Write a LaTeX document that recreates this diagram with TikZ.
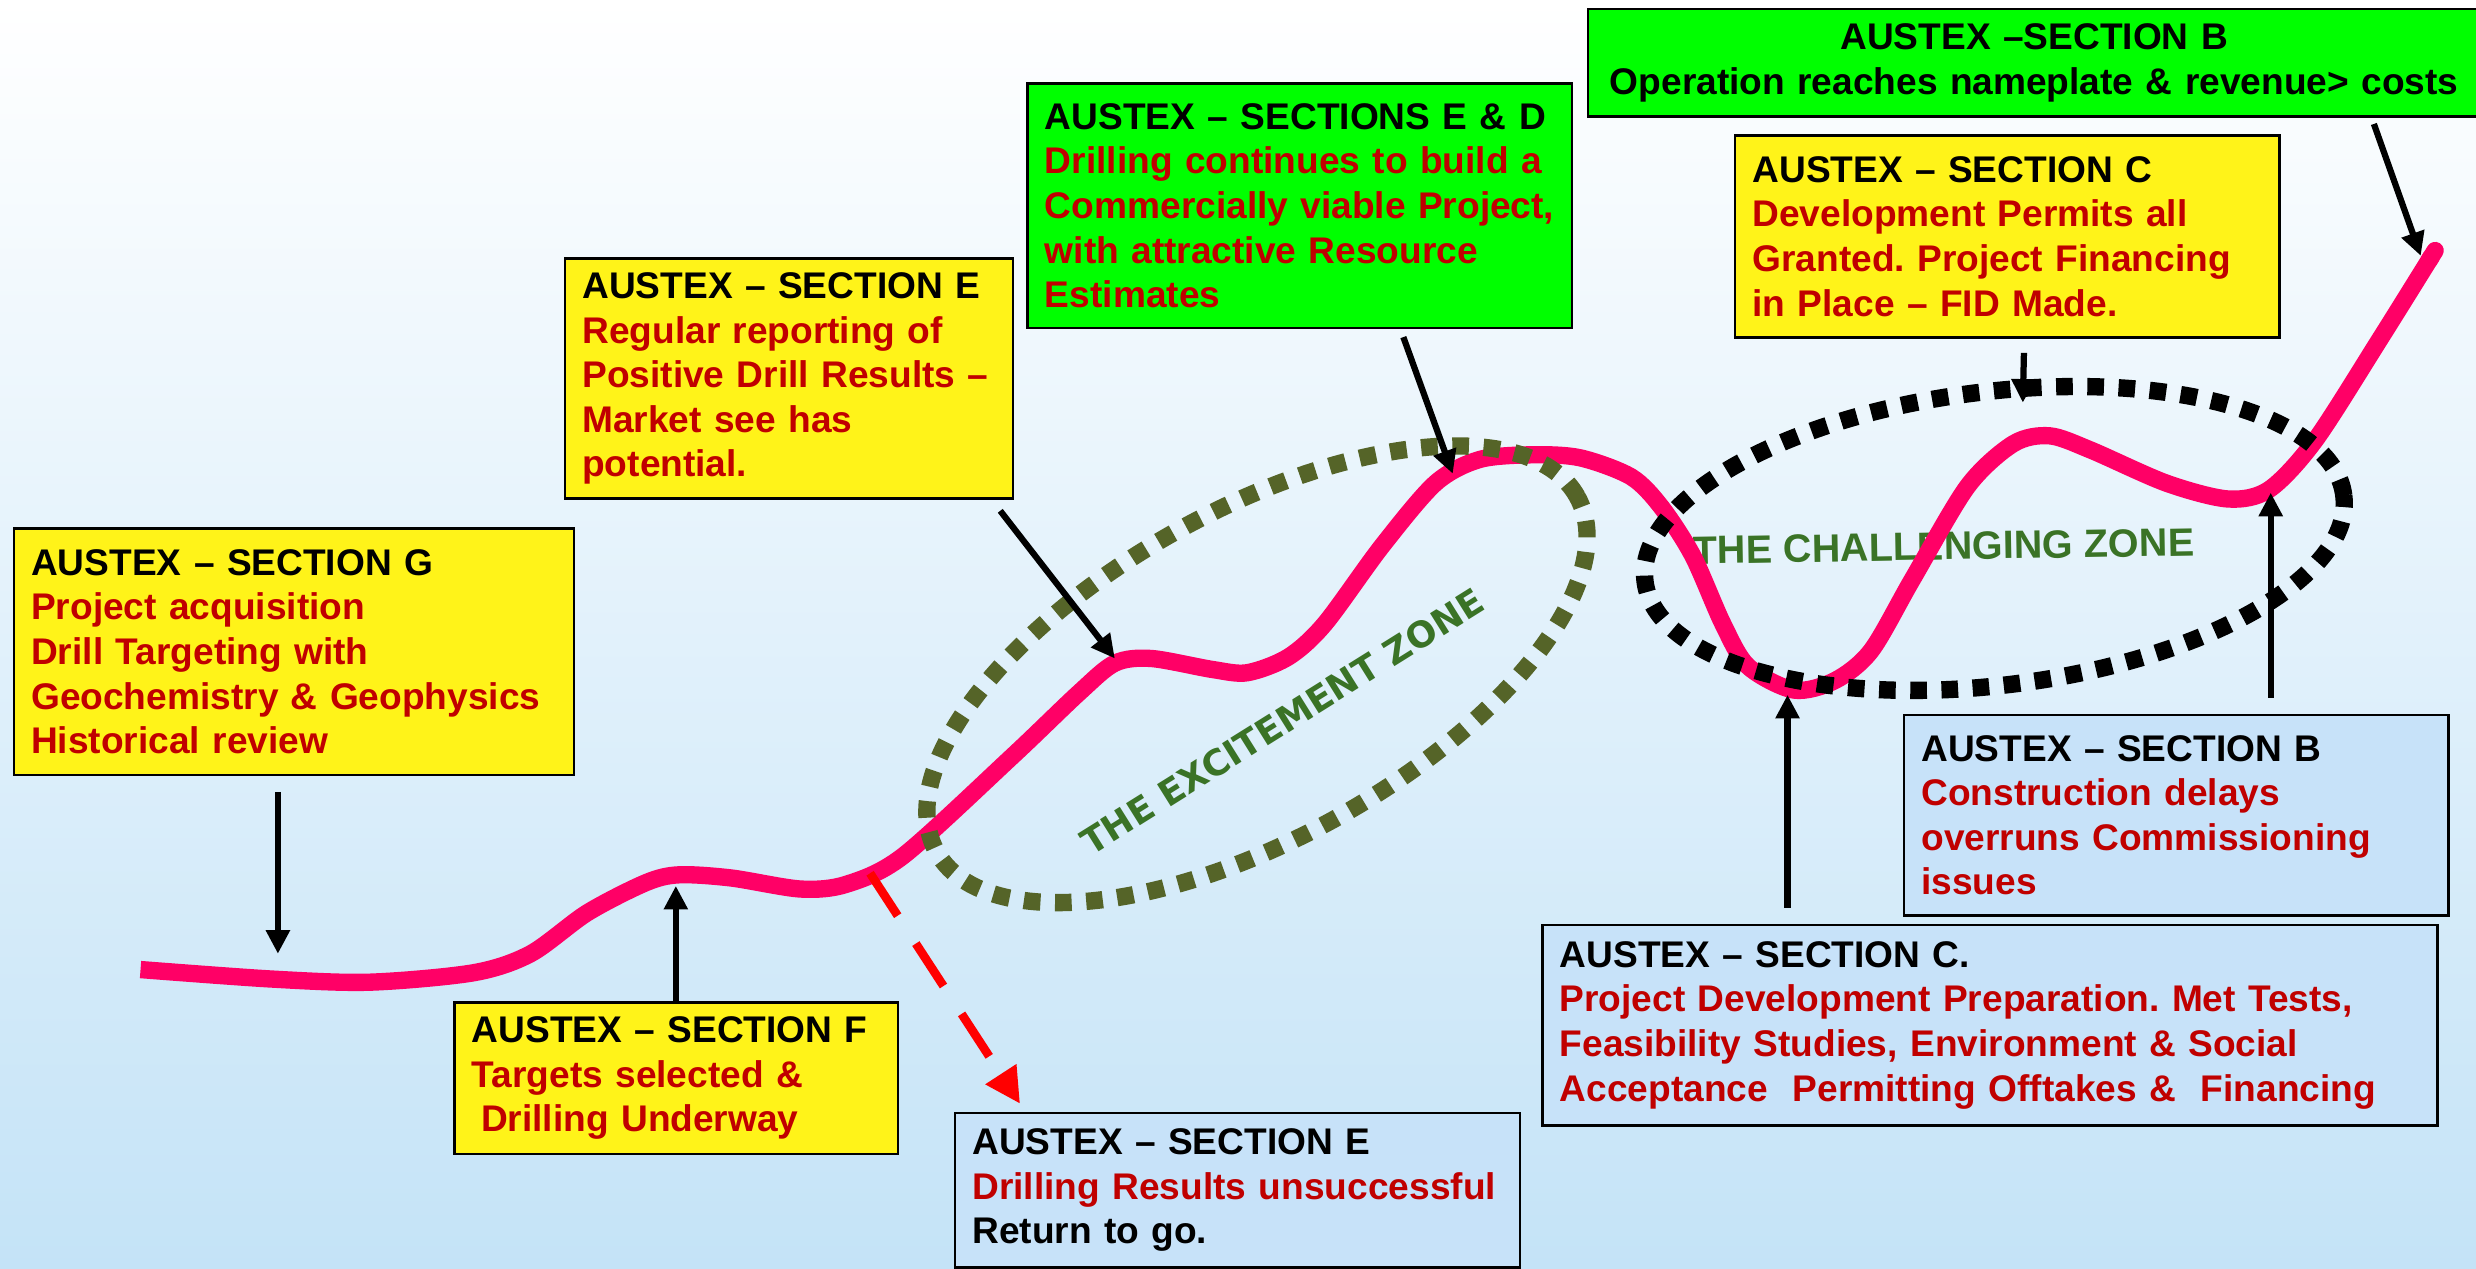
\documentclass[tikz,border=0pt]{standalone}
\usepackage{fontspec}
\setmainfont{Liberation Sans}
\newfontfamily\zonefont{DejaVu Sans}
\usetikzlibrary{calc,arrows.meta}
\frenchspacing

\definecolor{boxyellow}{RGB}{255,243,25}
\definecolor{boxgreen}{RGB}{0,255,0}
\definecolor{boxblue}{RGB}{199,226,249}
\definecolor{sectred}{RGB}{192,0,0}
\definecolor{trendpink}{RGB}{255,0,102}
\definecolor{zoneolive}{RGB}{85,100,40}
\definecolor{zonegreen}{RGB}{58,115,38}
\definecolor{bgblue}{RGB}{196,227,247}

\tikzset{
  secbox/.style={draw=black, line width=0.7pt, anchor=north west,
    inner xsep=0.176cm, inner ysep=0pt, align=left,
    font=\bfseries\fontsize{10.7}{12.86}\selectfont},
  pointer/.style={line width=1.8pt, -{Triangle[length=6.8pt,width=6.6pt]}},
  failpath/.style={draw=red, line width=2.5pt, dash pattern=on 14.6pt off 9.6pt,
    -{Triangle[length=10.2pt,width=10pt]}},
  trend/.style={draw=trendpink, line width=5pt, -{Round Cap[]}},
  zonering/.style={line width=5pt, dash pattern=on 4.8pt off 4.2pt},
  zonelabel/.style={text=zonegreen, inner sep=0pt}
}
\newcommand{\sectext}[1]{\textcolor{sectred}{#1}}

\begin{document}
\begin{tikzpicture}[x=0.016cm,y=-0.016cm]
  %% Background
  \shade[top color=white, bottom color=bgblue] (0,0) rectangle (1568,803);
  \useasboundingbox (0,0) rectangle (1568,803);

  %% Zone labels
  \node[zonelabel, rotate=32, font=\zonefont\bfseries\fontsize{10.3}{12}\selectfont]
    (excite) at (812,457) {THE EXCITEMENT ZONE};
  \node[zonelabel, rotate=1, font=\bfseries\fontsize{11.4}{13}\selectfont]
    (challenge) at (1231,346) {THE CHALLENGING ZONE};

  %% The project curve
  \draw[trend] plot[smooth, tension=0.5] coordinates {
    (89,614) (172,620) (234,622) (300,616) (336,604) (372,578) (409,559)
    (430,554) (463,556) (507,563) (536,560) (572,542) (641,479) (683,439)
    (706,420) (729,417) (768,424) (790,426) (816,416) (839,395) (875,346)
    (909,306) (937,291) (971,288) (1001,290) (1033,302) (1052,321)
    (1072,352) (1091,395) (1107,422) (1136,437) (1162,431) (1185,412)
    (1211,367) (1246,308) (1275,281) (1298,276) (1324,285) (1372,306)
    (1411,316) (1437,310) (1466,279) (1507,215) (1545,154)};

  %% Dotted zones
  \draw[zonering, draw=zoneolive, rotate around={29:(796,427)}]
    (796,427) ellipse [x radius=3.712cm, y radius=1.664cm];
  \draw[zonering, draw=black, rotate around={7:(1263,341)}]
    (1263,341) ellipse [x radius=3.568cm, y radius=1.488cm];

  %% Points on the curve
  \coordinate (tipG) at (176,604);
  \coordinate (tipF) at (428,561);
  \coordinate (tipE) at (706,417);
  \coordinate (tipED) at (920,300);
  \coordinate (tipC) at (1281,255);
  \coordinate (tipBtop) at (1533,162);
  \coordinate (tipCdot) at (1132,440);
  \coordinate (tipB) at (1438,312);
  \coordinate (failstart) at (551,553);

  %% Section boxes
  \node[secbox, fill=boxyellow, text width=5.328cm, minimum height=2.496cm]
    (secG) at (8,334) {AUSTEX – SECTION G\\
      \sectext{Project acquisition}\\
      \sectext{Drill Targeting with}\\
      \sectext{Geochemistry \& Geophysics}\\
      \sectext{Historical review}};
  \node[secbox, fill=boxyellow, text width=4.144cm, minimum height=1.536cm]
    (secF) at (287,634) {AUSTEX – SECTION F\\
      \sectext{Targets selected \&}\\
      \sectext{\hspace*{0.25em}Drilling Underway}};
  \node[secbox, fill=boxblue, text width=5.376cm, minimum height=1.568cm]
    (secEfail) at (604,704) {AUSTEX – SECTION E\\
      \sectext{Drilling Results unsuccessful}\\
      Return to go.};
  \node[secbox, fill=boxyellow, text width=4.192cm, minimum height=2.432cm]
    (secE) at (357,163) {AUSTEX – SECTION E\\
      \sectext{Regular reporting of}\\
      \sectext{Positive Drill Results –}\\
      \sectext{Market see has}\\
      \sectext{potential.}};
  \node[secbox, fill=boxgreen, text width=5.168cm, minimum height=2.48cm]
    (secED) at (650,52) {AUSTEX – SECTIONS E \& D\\
      \sectext{Drilling continues to build a}\\
      \sectext{Commercially viable Project,}\\
      \sectext{with attractive Resource}\\
      \sectext{Estimates}};
  \node[secbox, fill=boxgreen, text width=8.688cm, minimum height=1.088cm, align=center]
    (secBtop) at (1005,5) {AUSTEX –SECTION B\\
      Operation reaches nameplate \& revenue> costs};
  \node[secbox, fill=boxyellow, text width=5.168cm, minimum height=2.048cm]
    (secC) at (1098,85) {AUSTEX – SECTION C\\
      \sectext{Development Permits all}\\
      \sectext{Granted. Project Financing}\\
      \sectext{in Place – FID Made.}};
  \node[secbox, fill=boxblue, text width=5.168cm, minimum height=2.032cm]
    (secB) at (1205,452) {AUSTEX – SECTION B\\
      \sectext{Construction delays}\\
      \sectext{overruns Commissioning}\\
      \sectext{issues}};
  \node[secbox, fill=boxblue, text width=8.72cm, minimum height=2.032cm]
    (secCdot) at (976,585) {AUSTEX – SECTION C.\\
      \sectext{Project Development Preparation. Met Tests,}\\
      \sectext{Feasibility Studies, Environment \& Social}\\
      \sectext{Acceptance\ \ Permitting Offtakes \&\ \ Financing}};

  %% Pointers from the boxes to the curve
  \draw[pointer, shorten <=0.16cm] (secG.south -| tipG) -- (tipG);
  \foreach \b/\t/\g in {secF/tipF/0cm, secCdot/tipCdot/0.16cm, secB/tipB/0.16cm}
  {
    \draw[pointer, shorten <=\g] (\b.north -| \t) -- (\t);
  }
  \draw[pointer] ($(secE.south east)+(-9,7)$) -- (tipE);
  \draw[pointer] ($(secED.south)+(65.5,5)$) -- (tipED);
  \draw[pointer] ($(secC.south)+(10.5,9)$) -- (tipC);
  \draw[pointer] ($(secBtop.south east)+(-68,4)$) -- (tipBtop);

  %% Failed drilling goes back
  \draw[failpath] (failstart) -- ($(secEfail.north west)+(42,-5)$);
\end{tikzpicture}
\end{document}
